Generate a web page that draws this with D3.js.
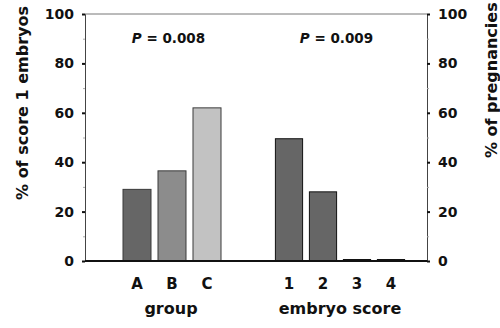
<!DOCTYPE html>
<html lang="en">
<head>
<meta charset="UTF-8" />
<script src="https://d3js.org/d3.v7.min.js"></script>
<style>
  body { margin: 0; background: #fff; }
  text { font-family: "DejaVu Sans", sans-serif; font-weight: bold; fill: #111; }
</style>
</head>
<body>
<svg id="chart"></svg>
<script>
const groups = ["A", "B", "C"];
const groupValues = [29, 36.5, 62];
const groupColors = ["#666666", "#8c8c8c", "#c2c2c2"];
const scores = ["1", "2", "3", "4"];
const scoreValues = [49.5, 28, 0.6, 0.6];
const scoreColor = "#666666";
const yTicks = [0, 20, 40, 60, 80, 100];
const yMinor = [10, 30, 50, 70, 90];
const pLabels = ["0.008", "0.009"];

const W = 500, H = 328;
const plotLeft = 85, plotRight = 427, plotTop = 14, plotBottom = 261;

const svg = d3.select("#chart").attr("width", W).attr("height", H);

const y = d3.scaleLinear().domain([0, 100]).range([plotBottom, plotTop]);
const xg = d3.scaleBand().domain(groups).range([119.5, 224.5]).paddingInner(0.2).paddingOuter(0.1);
const xs = d3.scaleBand().domain(scores).range([272, 408]).paddingInner(0.2).paddingOuter(0.1);

// frame top line
svg.append("line")
  .attr("x1", plotLeft).attr("x2", plotRight).attr("y1", plotTop).attr("y2", plotTop)
  .attr("stroke", "#777").attr("stroke-width", 1);

// left axis
const yl = svg.append("g").attr("transform", `translate(${plotLeft},0)`)
  .call(d3.axisLeft(y).tickValues(yTicks).tickSize(3).tickPadding(8));
yl.select(".domain").attr("stroke", "#444");
yl.selectAll(".tick line").attr("stroke", "#111").attr("stroke-width", 2);
yl.selectAll(".tick text").style("font-size", "14px").style("font-weight", "bold");
svg.append("g").attr("transform", `translate(${plotLeft},0)`)
  .call(d3.axisLeft(y).tickValues(yMinor).tickSize(2).tickFormat(""))
  .call(g => g.select(".domain").remove())
  .selectAll("line").attr("stroke", "#aaa");

// right axis
const yr = svg.append("g").attr("transform", `translate(${plotRight},0)`)
  .call(d3.axisRight(y).tickValues(yTicks).tickSize(3).tickPadding(8));
yr.select(".domain").attr("stroke", "#444");
yr.selectAll(".tick line").attr("stroke", "#111").attr("stroke-width", 2);
yr.selectAll(".tick text").style("font-size", "14px").style("font-weight", "bold");
svg.append("g").attr("transform", `translate(${plotRight},0)`)
  .call(d3.axisRight(y).tickValues(yMinor).tickSize(2).tickFormat(""))
  .call(g => g.select(".domain").remove())
  .selectAll("line").attr("stroke", "#aaa");

// bars
svg.append("g").selectAll("rect")
  .data(groups)
  .join("rect")
  .attr("x", d => xg(d))
  .attr("width", xg.bandwidth())
  .attr("y", (d, i) => y(groupValues[i]))
  .attr("height", (d, i) => y(0) - y(groupValues[i]))
  .attr("fill", (d, i) => groupColors[i])
  .attr("stroke", "#3a3a3a").attr("stroke-width", 1);

svg.append("g").selectAll("rect")
  .data(scores)
  .join("rect")
  .attr("x", d => xs(d))
  .attr("width", xs.bandwidth())
  .attr("y", (d, i) => y(scoreValues[i]))
  .attr("height", (d, i) => y(0) - y(scoreValues[i]))
  .attr("fill", scoreColor)
  .attr("stroke", "#111").attr("stroke-width", 1);

// baseline
svg.append("line")
  .attr("x1", plotLeft).attr("x2", plotRight).attr("y1", y(0)).attr("y2", y(0))
  .attr("stroke", "#111").attr("stroke-width", 2);

// x labels
const gx = svg.append("g").attr("transform", `translate(0,${plotBottom})`)
  .call(d3.axisBottom(xg).tickSize(0).tickPadding(17));
gx.select(".domain").remove();
gx.selectAll("text").style("font-size", "15px").style("font-weight", "bold");
const sx = svg.append("g").attr("transform", `translate(0,${plotBottom})`)
  .call(d3.axisBottom(xs).tickSize(0).tickPadding(17));
sx.select(".domain").remove();
sx.selectAll("text").style("font-size", "15px").style("font-weight", "bold");

svg.append("text").attr("x", 171).attr("y", 314).attr("text-anchor", "middle")
  .style("font-size", "16px").text("group");
svg.append("text").attr("x", 340).attr("y", 314).attr("text-anchor", "middle")
  .style("font-size", "16px").text("embryo score");

// axis titles
svg.append("text").attr("transform", "translate(28,103) rotate(-90)")
  .attr("text-anchor", "middle").style("font-size", "16px").text("% of score 1 embryos");
svg.append("text").attr("transform", "translate(497,158) rotate(-90)")
  .attr("text-anchor", "start").style("font-size", "16px").text("% of pregnancies");

// P values
[[168.5, pLabels[0]], [336.5, pLabels[1]]].forEach(([cx, v]) => {
  const t = svg.append("text").attr("x", cx).attr("y", 43).attr("text-anchor", "middle")
    .style("font-size", "13.5px");
  t.append("tspan").style("font-style", "italic").text("P");
  t.append("tspan").text(" = " + v);
});
</script>
</body>
</html>
